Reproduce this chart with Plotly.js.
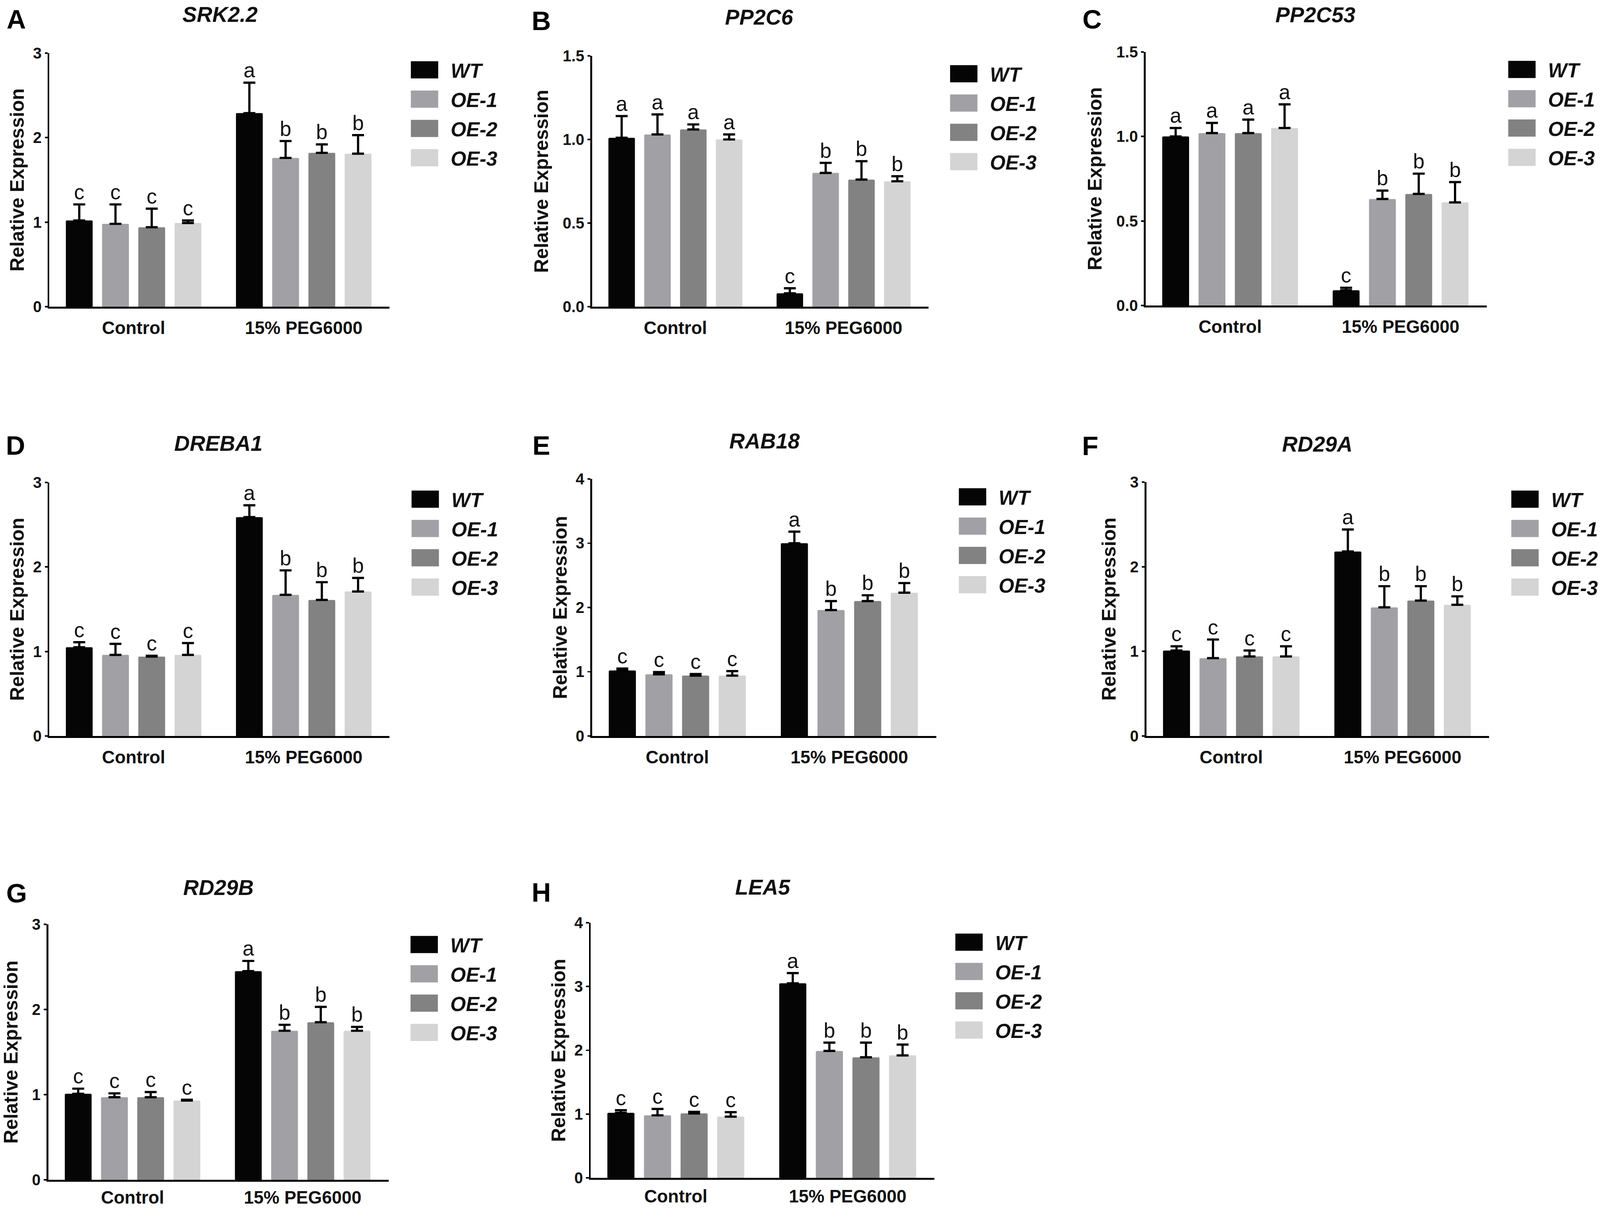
<!DOCTYPE html>
<html>
<head>
<meta charset="utf-8">
<script src="https://cdn.plot.ly/plotly-3.0.1.min.js"></script>
<style>html,body{margin:0;padding:0;background:#fff;overflow:hidden}</style>
</head>
<body>
<div id="chart"></div>
<script>
// ---------------- DATA ----------------
const groups = ["Control", "15% PEG6000"];
const lines = ["WT", "OE-1", "OE-2", "OE-3"];
const genes = ["SRK2.2", "PP2C6", "PP2C53", "DREBA1", "RAB18", "RD29A", "RD29B", "LEA5"];
const panelLetters = ["A", "B", "C", "D", "E", "F", "G", "H"];

// rows: WT, OE-1, OE-2, OE-3 ; columns: Control, 15% PEG6000
const SRK22_MEAN = [[1.02, 2.29], [0.98, 1.76], [0.94, 1.82], [0.99, 1.81]];
const SRK22_ERR  = [[0.19, 0.36], [0.23, 0.20], [0.22, 0.10], [0.03, 0.22]];
const SRK22_SIG  = [["c", "a"], ["c", "b"], ["c", "b"], ["c", "b"]];

const PP2C6_MEAN = [[1.01, 0.08], [1.03, 0.80], [1.06, 0.76], [1.00, 0.75]];
const PP2C6_ERR  = [[0.13, 0.03], [0.12, 0.06], [0.03, 0.11], [0.03, 0.03]];
const PP2C6_SIG  = [["a", "c"], ["a", "b"], ["a", "b"], ["a", "b"]];

const PP2C53_MEAN = [[1.00, 0.09], [1.02, 0.63], [1.02, 0.66], [1.05, 0.61]];
const PP2C53_ERR  = [[0.05, 0.015], [0.06, 0.05], [0.08, 0.12], [0.14, 0.12]];
const PP2C53_SIG  = [["a", "c"], ["a", "b"], ["a", "b"], ["a", "b"]];

const DREBA1_MEAN = [[1.05, 2.59], [0.96, 1.67], [0.94, 1.61], [0.96, 1.71]];
const DREBA1_ERR  = [[0.06, 0.14], [0.13, 0.29], [0.01, 0.21], [0.14, 0.16]];
const DREBA1_SIG  = [["c", "a"], ["c", "b"], ["c", "b"], ["c", "b"]];

const RAB18_MEAN = [[1.02, 3.00], [0.96, 1.96], [0.94, 2.10], [0.94, 2.23]];
const RAB18_ERR  = [[0.03, 0.18], [0.035, 0.14], [0.025, 0.09], [0.07, 0.15]];
const RAB18_SIG  = [["c", "a"], ["c", "b"], ["c", "b"], ["c", "b"]];

const RD29A_MEAN = [[1.01, 2.18], [0.92, 1.52], [0.94, 1.60], [0.94, 1.55]];
const RD29A_ERR  = [[0.05, 0.26], [0.22, 0.25], [0.07, 0.17], [0.12, 0.10]];
const RD29A_SIG  = [["c", "a"], ["c", "b"], ["c", "b"], ["c", "b"]];

const RD29B_MEAN = [[1.01, 2.45], [0.97, 1.75], [0.97, 1.85], [0.93, 1.75]];
const RD29B_ERR  = [[0.06, 0.12], [0.045, 0.07], [0.06, 0.18], [0.01, 0.045]];
const RD29B_SIG  = [["c", "a"], ["c", "b"], ["c", "b"], ["c", "b"]];

const LEA5_MEAN = [[1.02, 3.05], [0.98, 1.99], [1.01, 1.89], [0.96, 1.92]];
const LEA5_ERR  = [[0.04, 0.16], [0.10, 0.13], [0.025, 0.23], [0.07, 0.17]];
const LEA5_SIG  = [["c", "a"], ["c", "b"], ["c", "b"], ["c", "b"]];

const TICKS_3 = [0, 1, 2, 3];
const TICKS_3_TEXT = ["0", "1", "2", "3"];
const TICKS_15 = [0, 0.5, 1.0, 1.5];
const TICKS_15_TEXT = ["0.0", "0.5", "1.0", "1.5"];
const TICKS_4 = [0, 1, 2, 3, 4];
const TICKS_4_TEXT = ["0", "1", "2", "3", "4"];

const MEANS = [SRK22_MEAN, PP2C6_MEAN, PP2C53_MEAN, DREBA1_MEAN, RAB18_MEAN, RD29A_MEAN, RD29B_MEAN, LEA5_MEAN];
const ERRS  = [SRK22_ERR, PP2C6_ERR, PP2C53_ERR, DREBA1_ERR, RAB18_ERR, RD29A_ERR, RD29B_ERR, LEA5_ERR];
const SIGS  = [SRK22_SIG, PP2C6_SIG, PP2C53_SIG, DREBA1_SIG, RAB18_SIG, RD29A_SIG, RD29B_SIG, LEA5_SIG];
const TICKVALS = [TICKS_3, TICKS_15, TICKS_15, TICKS_3, TICKS_4, TICKS_3, TICKS_3, TICKS_4];
const TICKTEXT = [TICKS_3_TEXT, TICKS_15_TEXT, TICKS_15_TEXT, TICKS_3_TEXT, TICKS_4_TEXT, TICKS_3_TEXT, TICKS_3_TEXT, TICKS_4_TEXT];

// ---------------- STYLE / LAYOUT ----------------
const W = 4562, H = 3105;
const VW = window.innerWidth || W, VH = window.innerHeight || H;
const SX = VW / W, SY = VH / H;           // fill the whole window
const SF = (SX + SY) / 2;                  // font / stroke scale
const FONT = "Liberation Sans, Arial, Helvetica, sans-serif";
const COLORS = ["#050505", "#a1a1a5", "#828282", "#d4d4d4"];
// plot-area boxes in reference pixels: [left, right, top, bottom]
const BOX = [
  [141, 1112, 136, 785], [1690, 2650, 143, 785], [3270, 4243, 133, 782],
  [141, 1112, 1235, 1884], [1690, 2672, 1226, 1884], [3272, 4250, 1234, 1884],
  [138, 1109, 2366, 3020], [1686, 2667, 2362, 3015]
];
const LABEL_STANDOFF = [11, 11, 11, 11, 11, 11, 2, 4];
const LEG = [ // [legend square left, WT centre y]
  [1172, 179], [2711, 189], [4304, 178],
  [1174, 1278], [2736, 1272], [4313, 1278],
  [1171, 2418], [2726, 2412]
];
const LETTER_POS = [[46, 49], [1545, 53], [3117, 49], [44, 1140], [1545, 1140], [3112, 1141], [47, 2286], [1545, 2284]];
const TITLE_POS = [[628, 37], [2167, 44], [3754, 38], [623, 1135], [2182, 1129], [3759, 1137], [623, 2272], [2177, 2271]];
const YSTANDOFF = [9, 25, 25, 9, 9, 24, 28, 9];

const px = v => v / W;
const py = v => 1 - v / H;

const gd = document.getElementById("chart");
gd.style.width = VW + "px";
gd.style.height = VH + "px";

const data = [];
const layout = {
  width: VW, height: VH,
  margin: {l: 0, r: 0, t: 0, b: 0},
  paper_bgcolor: "#fff", plot_bgcolor: "rgba(0,0,0,0)",
  barmode: "group", bargap: 0.148, bargroupgap: 0.26,
  scattermode: "group", scattergap: 0.148,
  font: {family: FONT, color: "#111"},
  annotations: [],
  showlegend: true
};

genes.forEach((gene, i) => {
  const n = i === 0 ? "" : String(i + 1);
  const xa = "x" + n, ya = "y" + n;
  const legId = "legend" + n;
  const [l, r, t, b] = BOX[i];
  const yMax = TICKVALS[i][TICKVALS[i].length - 1];

  lines.forEach((ln, j) => {
    data.push({
      type: "bar", x: groups, y: MEANS[i][j], name: ln,
      xaxis: xa, yaxis: ya, legend: legId, legendgroup: panelLetters[i] + "-" + ln,
      offsetgroup: String(j),
      marker: {color: COLORS[j], line: {width: 0}, cornerradius: 4 * SX},
      error_y: {type: "data", symmetric: false, array: ERRS[i][j], arrayminus: [0, 0],
                color: "#000", thickness: 6 * SF, width: 17 * SX},
      hoverinfo: "y+name"
    });
    data.push({
      type: "scatter", mode: "text", x: groups,
      y: MEANS[i][j].map((m, k) => m + ERRS[i][j][k]),
      text: SIGS[i][j], textposition: "top center",
      textfont: {family: FONT, size: 56 * SF, color: "#111"},
      xaxis: xa, yaxis: ya, offsetgroup: String(j),
      showlegend: false, hoverinfo: "skip", cliponaxis: false
    });
  });

  layout["xaxis" + n] = {
    domain: [px(l), px(r)], anchor: ya, type: "category",
    range: [-0.495, 1.505], fixedrange: true,
    showline: true, linewidth: 5 * SF, linecolor: "#000",
    ticks: "", showgrid: false, zeroline: false,
    ticklabelstandoff: LABEL_STANDOFF[i] * SY,
    tickfont: {family: FONT, size: 48 * SF, weight: "bold", color: "#111"}
  };
  layout["yaxis" + n] = {
    domain: [py(b), py(t)], anchor: xa, range: [0, yMax], fixedrange: true,
    tickvals: TICKVALS[i], ticktext: TICKTEXT[i],
    ticks: "outside", ticklen: 8 * SX, tickwidth: 4 * SF, tickcolor: "#000",
    showline: true, linewidth: 5 * SF, linecolor: "#000",
    showgrid: false, zeroline: false, automargin: false,
    tickfont: {family: FONT, size: 42 * SF, weight: "bold", color: "#111"},
    title: {text: "Relative Expression", standoff: YSTANDOFF[i] * SX,
            font: {family: FONT, size: 52 * SF, weight: "bold", color: "#111"}}
  };
  layout[legId] = {
    x: px(LEG[i][0] - 35), y: py(LEG[i][1] - 40), xanchor: "left", yanchor: "top",
    xref: "paper", yref: "paper",
    bgcolor: "rgba(0,0,0,0)", borderwidth: 0, itemwidth: Math.max(30, 138 * SX),
    tracegroupgap: Math.max(0, 75 * SY - (1.3 * 54 * SF + 3)),
    traceorder: "grouped", itemclick: false, itemdoubleclick: false,
    font: {family: FONT, size: 54 * SF, weight: "bold", style: "italic", color: "#111"}
  };
  layout.annotations.push({
    xref: "paper", yref: "paper", x: px(LETTER_POS[i][0]), y: py(LETTER_POS[i][1]),
    text: panelLetters[i], showarrow: false, xanchor: "center", yanchor: "middle",
    font: {family: FONT, size: 72 * SF, weight: "bold", color: "#000"}
  });
  layout.annotations.push({
    xref: "paper", yref: "paper", x: px(TITLE_POS[i][0]), y: py(TITLE_POS[i][1]),
    text: gene, showarrow: false, xanchor: "center", yanchor: "middle",
    font: {family: FONT, size: 58 * SF, weight: "bold", style: "italic", color: "#111"}
  });
});

function bigLegendSwatches() {
  const hw = 39 * SX, hh = 22 * SY;
  document.querySelectorAll("g.legendpoints path").forEach(p => {
    p.setAttribute("d", "M" + hw + "," + hh + "H-" + hw + "V-" + hh + "H" + hw + "Z");
  });
}

Plotly.newPlot(gd, data, layout, {displayModeBar: false, staticPlot: true}).then(() => {
  bigLegendSwatches();
  if (gd.on) gd.on("plotly_afterplot", bigLegendSwatches);
  setTimeout(bigLegendSwatches, 300);
});
</script>
</body>
</html>
